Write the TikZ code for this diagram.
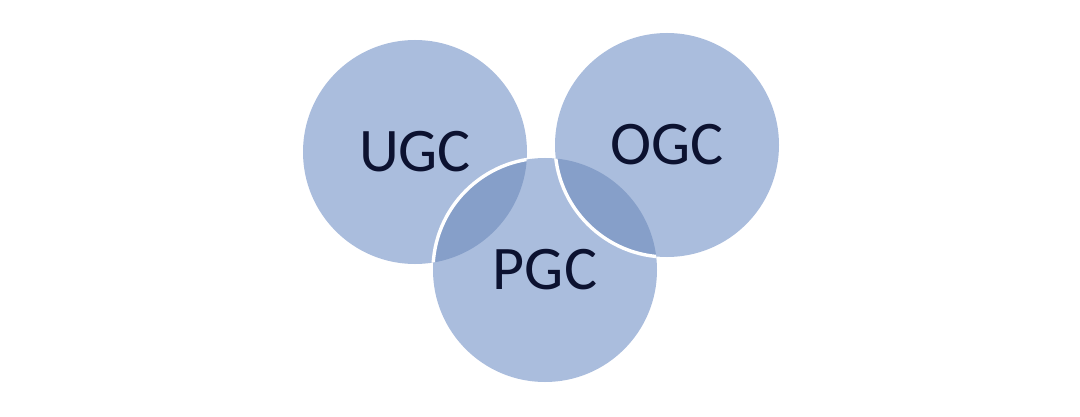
\documentclass[tikz,border=0pt]{standalone}
\usepackage{fontspec}
\setmainfont{Carlito}
\usetikzlibrary{calc}
\definecolor{VennPaper}{RGB}{255,255,255}
\definecolor{VennFill}{RGB}{170,189,221}
\definecolor{VennOverlap}{RGB}{134,159,201}
\definecolor{VennInk}{RGB}{12,18,48}
\tikzset{
    venn/diagram/.style={
        x=1pt, y=-1pt,
        line cap=round,
        line join=round
    },
    venn/set/.style={
        circle, minimum size=224pt, inner sep=0pt, outer sep=0pt,
        fill=VennFill, draw=none
    },
    venn/overlap/.style={fill=VennOverlap, draw=none},
    venn/rim/.style={draw=VennPaper, line width=3.4pt},
    venn/label/.style={
        text=VennInk, inner sep=0pt,
        font=\fontsize{62}{62}\selectfont
    }
}
\begin{document}
\begin{tikzpicture}[venn/diagram]
    \useasboundingbox[fill=VennPaper] (0,0) rectangle (1080,417);
    \def\SetRadius{112}
    \node[venn/set] (ugc) at (415,152) {};
    \node[venn/set] (pgc) at (545,270) {};
    \node[venn/set] (ogc) at (667,145) {};
    % Shared areas are darker; the set drawn later keeps a white rim.
    \begin{scope}
        \clip (ugc.center) circle[radius=\SetRadius];
        \fill[venn/overlap] (pgc.center) circle[radius=\SetRadius];
        \draw[venn/rim] (pgc.center) circle[radius=\SetRadius];
    \end{scope}
    \begin{scope}
        \clip (pgc.center) circle[radius=\SetRadius];
        \fill[venn/overlap] (ogc.center) circle[radius=\SetRadius];
        \draw[venn/rim] (ogc.center) circle[radius=\SetRadius];
    \end{scope}
    \node[venn/label] (ugc-text) at (ugc.center) {UGC};
    \node[venn/label] (pgc-text) at (pgc.center) {PGC};
    \node[venn/label] (ogc-text) at (ogc.center) {OGC};
\end{tikzpicture}
\end{document}
